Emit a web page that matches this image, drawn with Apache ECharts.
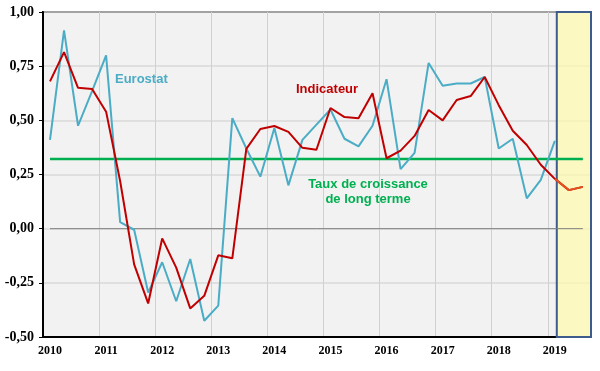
<!DOCTYPE html>
<html>
<head>
<meta charset="utf-8">
<script src="https://cdn.jsdelivr.net/npm/echarts@6/dist/echarts.min.js"></script>
<style>html,body{margin:0;padding:0;background:#fff;}#c{width:600px;height:371px;}</style>
</head>
<body>
<div id="c"></div>
<script>
// Quarterly data, first quarter 2010 T1
var startYear = 2010;
var eurostat = [
  0.41, 0.915, 0.475, 0.635,
  0.80, 0.03, -0.005, -0.295,
  -0.155, -0.335, -0.14, -0.425,
  -0.355, 0.51, 0.37, 0.24,
  0.465, 0.20, 0.41, 0.48,
  0.55, 0.415, 0.38, 0.475,
  0.69, 0.275, 0.35, 0.765,
  0.66, 0.67, 0.67, 0.70,
  0.37, 0.415, 0.14, 0.225,
  0.405
];
var indicateur = [
  0.68, 0.815, 0.65, 0.645,
  0.54, 0.22, -0.165, -0.345,
  -0.045, -0.18, -0.368, -0.31,
  -0.123, -0.137, 0.368, 0.46,
  0.474, 0.447, 0.373, 0.364,
  0.557, 0.515, 0.51, 0.625,
  0.325, 0.36, 0.428, 0.548,
  0.50, 0.594, 0.612, 0.70,
  0.57, 0.452, 0.386, 0.295,
  0.23, 0.178, 0.193
];
var tauxLongTerme = 0.322;
var yearTicks = [2010, 2011, 2012, 2013, 2014, 2015, 2016, 2017, 2018, 2019];
var yTicks = [-0.5, -0.25, 0, 0.25, 0.5, 0.75, 1.0];
var forecastStart = 2019.16;
var axisEnd = 2019.77;
var lastObserved = eurostat.length - 1; // index where the forecast begins

function qx(i) { return startYear + Math.floor(i / 4) + ((i % 4) + 0.5) / 4; }
var euroData = eurostat.map(function (v, i) { return [qx(i), v]; });
var indData = indicateur.map(function (v, i) { return [qx(i), v]; });
var fcData = indData.slice(lastObserved);
var firstX = qx(0), lastX = qx(indicateur.length - 1);

var chart = echarts.init(document.getElementById('c'), null, {renderer: 'canvas'});
chart.setOption({
  animation: false,
  backgroundColor: '#ffffff',
  grid: {left: 43, top: 12, right: 9, bottom: 34, show: true,
         backgroundColor: '#f2f2f2', borderColor: '#000', borderWidth: 2},
  xAxis: {
    type: 'value', min: yearTicks[0], max: axisEnd, interval: 1,
    axisLine: {show: true, onZero: false, lineStyle: {color: '#000', width: 2}},
    axisTick: {show: false},
    splitLine: {show: true, lineStyle: {color: '#d0d0d0', width: 1}},
    axisLabel: {
      showMaxLabel: false, margin: 8,
      fontFamily: 'Liberation Serif', fontWeight: 'bold', fontSize: 12, color: '#000',
      padding: [0, 0, 0, 14],
      formatter: function (v) { return yearTicks.indexOf(Math.round(v)) >= 0 ? String(Math.round(v)) : ''; }
    }
  },
  yAxis: {
    type: 'value', min: yTicks[0], max: yTicks[yTicks.length - 1], interval: 0.25,
    axisLine: {show: true, onZero: false, lineStyle: {color: '#000', width: 2}},
    axisTick: {show: true, length: 4, lineStyle: {color: '#000', width: 1}},
    splitLine: {show: true, lineStyle: {color: '#d9d9d9', width: 1.5}},
    axisLabel: {
      margin: 9, fontFamily: 'Liberation Serif', fontWeight: 'bold', fontSize: 14, color: '#000',
      formatter: function (v) { return v.toFixed(2).replace('.', ','); }
    }
  },
  series: [
    {
      type: 'line', data: [], z: 1, silent: true,
      markArea: {
        silent: true,
        itemStyle: {color: 'rgba(255,250,175,0.72)', borderColor: '#3d5b8c', borderWidth: 2},
        data: [[{xAxis: forecastStart, yAxis: yTicks[0]}, {xAxis: axisEnd, yAxis: yTicks[yTicks.length - 1]}]]
      }
    },
    {
      type: 'line', z: 2, silent: true, symbol: 'none',
      data: [[firstX, 0], [lastX, 0]],
      lineStyle: {color: '#808080', width: 1}
    },
    {
      type: 'line', z: 3, symbol: 'none',
      data: [[firstX, tauxLongTerme], [lastX, tauxLongTerme]],
      lineStyle: {color: '#00b050', width: 2.5}
    },
    {
      name: 'Eurostat', type: 'line', z: 4, symbol: 'none', data: euroData,
      lineStyle: {color: '#4bacc6', width: 2}
    },
    {
      name: 'Indicateur', type: 'line', z: 5, symbol: 'none', data: indData,
      lineStyle: {color: '#c00000', width: 2}
    },
    {
      name: 'Prévision', type: 'line', z: 6, symbol: 'none', data: fcData,
      lineStyle: {color: '#e2531f', width: 2}
    }
  ],
  graphic: [
    {type: 'text', left: 115, top: 73, z: 10,
     style: {text: 'Eurostat', fill: '#4bacc6', font: 'bold 13px "Liberation Sans", Arial, sans-serif'}},
    {type: 'text', left: 296, top: 83, z: 10,
     style: {text: 'Indicateur', fill: '#c00000', font: 'bold 13px "Liberation Sans", Arial, sans-serif'}},
    {type: 'text', x: 368, y: 177, z: 10,
     style: {text: 'Taux de croissance\nde long terme', fill: '#00b050', textAlign: 'center',
             lineHeight: 15, font: 'bold 13px "Liberation Sans", Arial, sans-serif'}}
  ]
});
</script>
</body>
</html>
